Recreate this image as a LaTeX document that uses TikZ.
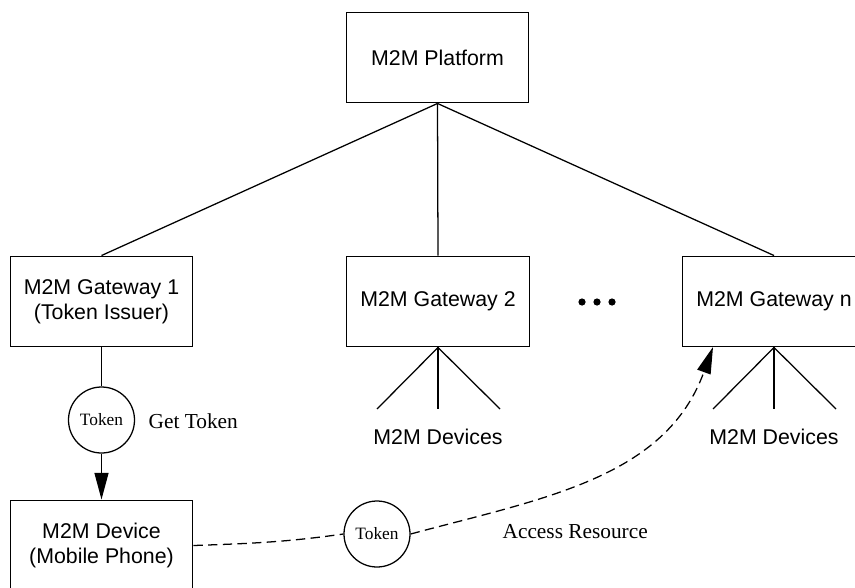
\documentclass[tikz,border=0pt]{standalone}
\usepackage{fontspec}
\setmainfont{Liberation Serif}
\newfontfamily\arialfont{Liberation Sans}
\usetikzlibrary{positioning, arrows.meta, calc}
\tikzset{
    m2mbox/.style={draw,minimum width=137pt,minimum height=68pt,align=center,font=\arialfont\fontsize{16}{19}\selectfont},
    tokencirc/.style={draw,circle,minimum size=49.5pt,inner sep=0pt,font=\fontsize{13}{15}\selectfont},
    devlabel/.style={font=\arialfont\fontsize{16}{19}\selectfont},
    romanlabel/.style={anchor=west,inner sep=0pt,font=\fontsize{16}{19}\selectfont},
    bigtip/.style={-{Triangle[length=20pt,width=10.5pt]}}
}

\begin{document}
\begin{tikzpicture}[x=0.75pt,y=0.75pt,line width=0.95pt]
            \path[use as bounding box,clip] (0,0) rectangle (855,587);
            \node[m2mbox] (platform) at (437.5,529.5) {M2M Platform};
            \node[m2mbox] (gwone) at (101.5,285.5) {M2M Gateway 1\\(Token Issuer)};
            \node[m2mbox] (gwtwo) at (438,285.5) {M2M Gateway 2};
            \node[m2mbox] (gwn) at (774,285.5) {M2M Gateway n};
            \node[m2mbox] (device) at (101.5,41.5) {M2M Device\\(Mobile Phone)};
            \draw (platform.south)--(gwone.north);
            \draw (platform.south)--(gwtwo.north);
            \draw (platform.south)--(gwn.north);
            % dots between the gateways
            \foreach \dx in {582,597,612}
                \fill (\dx,285) circle (2.7pt);
            % devices under gateway 2 and n
            \foreach \g/\gx in {gwtwo/438,gwn/774}{
                \coordinate (\g l) at (\gx-61,178);
                \coordinate (\g m) at (\gx,178);
                \coordinate (\g r) at (\gx+62,178);
                \draw (\g.south)--(\g l);
                \draw (\g.south)--(\g m);
                \draw (\g.south)--(\g r);
                \node[devlabel] (\g dev) at (\gx,150) {M2M Devices};
            }
            % get token
            \node[tokencirc] (tokget) at (101.5,167) {Token};
            \node[romanlabel] (gettxt) at (148,166) {Get Token};
            \draw (gwone.south)--(tokget.north);
            \draw[bigtip] (tokget.south)--(device.north);
            % access resource
            \node[tokencirc] (tokacc) at (377,53) {Token};
            \node[romanlabel] (acctxt) at (502,55) {Access Resource};
            \coordinate (gwnin) at (713,240);
            \draw[dash pattern=on 7pt off 4pt] (device.east) to[out=2,in=188] (tokacc.west);
            \draw[dash pattern=on 7pt off 4pt,bigtip] (tokacc.east) to[out=15,in=-110] (gwnin);
\end{tikzpicture}
\end{document}
